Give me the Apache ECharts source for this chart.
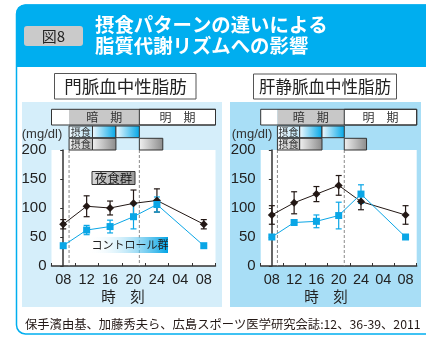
<!DOCTYPE html>
<html><head><meta charset="utf-8">
<script src="https://cdn.jsdelivr.net/npm/echarts@6/dist/echarts.min.js"></script>
<style>html,body{margin:0;padding:0;background:#fff}#c{width:426px;height:338px}</style>
</head><body><div id="c"></div>
<script>
// ---- data ----
const categories = ['08','12','16','20','24','04','08'];
const yTicks = [0, 50, 100, 150, 200];
// 門脈 (portal vein)
const portalSnack = [72, 103, 100, 108, 113, '-', 72];
const portalSnackErr = [8, 18, 12, 23, 20, '-', 8];
const portalControl = [35, 62, 68, 85, 106, '-', 35];
const portalControlErr = [0, 8, 11, 21, 13, '-', 0];
// 肝静脈 (hepatic vein)
const hepaticSnack = [88, 109, 124, 139, 111, '-', 88];
const hepaticSnackErr = [16, 19, 13, 17, 14, '-', 16];
const hepaticControl = [50, 75, 77, 87, 124, '-', 50];
const hepaticControlErr = [0, 2, 11, 23, 16, '-', 0];
// schedule, hours after 08:00
const axisHours = [-2, 26];
const darkPhase = [1, 13];
const mealLabelSpan = [1, 5];
const controlMeals = [[5, 9], [9, 13]];
const snackMeals = [[5, 9], [13, 17]];

// ---- styles ----
const JP = '"Noto Sans CJK JP", sans-serif';
const NUM = '"Liberation Sans", Arial, sans-serif';
const BLACK = '#231815', BLUE = '#0aa6e6', HEAD = '#00aeef';
const LG = (a, b) => new echarts.graphic.LinearGradient(0, 0, 1, 0, [{offset: 0, color: a}, {offset: 1, color: b}]);

function errData(mean, err) {
  return mean.map((m, i) => (m === '-' || !err[i]) ? null : [i, m - err[i], m + err[i]]).filter(Boolean);
}
function errRender(color) {
  return function (params, api) {
    const i = api.value(0);
    const a = api.coord([i, api.value(2)]), b = api.coord([i, api.value(1)]);
    const c = 3, st = {stroke: color, lineWidth: 1.2};
    return {type: 'group', children: [
      {type: 'line', shape: {x1: a[0], y1: a[1], x2: b[0], y2: b[1]}, style: st},
      {type: 'line', shape: {x1: a[0] - c, y1: a[1], x2: a[0] + c, y2: a[1]}, style: st},
      {type: 'line', shape: {x1: b[0] - c, y1: b[1], x2: b[0] + c, y2: b[1]}, style: st}
    ]};
  };
}
const ROWS = [[0.3, 16], [17, 28.7], [29.3, 41]];
function bandItems() {
  const it = [];
  it.push([axisHours[0], darkPhase[0], 0, 0]);
  it.push([darkPhase[0], darkPhase[1], 0, 1]);
  it.push([darkPhase[1], axisHours[1], 0, 2]);
  it.push([axisHours[0], axisHours[1], 0, 7]);
  it.push([mealLabelSpan[0], mealLabelSpan[1], 1, 3]);
  controlMeals.forEach(m => it.push([m[0], m[1], 1, 4]));
  it.push([mealLabelSpan[0], mealLabelSpan[1], 2, 5]);
  snackMeals.forEach(m => it.push([m[0], m[1], 2, 6]));
  return it;
}
function bandRender(params, api) {
  const x0 = api.value(0), x1 = api.value(1), row = api.value(2), kind = api.value(3);
  const r = ROWS[row];
  const p0 = api.coord([x0, r[0]]), p1 = api.coord([x1, r[1]]);
  const shape = {x: p0[0], y: p0[1], width: p1[0] - p0[0], height: p1[1] - p0[1]};
  let fill = '#fff', stroke = '#333', text = null, fs = 12;
  if (kind === 0) { stroke = null; }
  if (kind === 1) { fill = '#c8c8c8'; stroke = null; text = '暗　期'; }
  if (kind === 2) { fill = '#fff'; text = '明　期'; }
  if (kind === 7) { fill = null; }
  if (kind === 3) { fill = LG('#eef8fd', '#bfe6f7'); text = '摂食'; fs = 10; }
  if (kind === 4) { fill = LG('#f4fbff', '#00a6e6'); }
  if (kind === 5) { fill = LG('#eeeeee', '#bdbdbd'); text = '摂食'; fs = 10; }
  if (kind === 6) { fill = LG('#f2f2f2', '#8a8a8a'); }
  const el = {type: 'rect', shape, style: {fill: fill || 'none', stroke: stroke || 'none', lineWidth: 1}};
  if (text) {
    return {type: 'group', children: [el, {type: 'text', style: {
      text, x: shape.x + shape.width / 2, y: shape.y + shape.height / 2 + 0.5,
      align: 'center', verticalAlign: 'middle', fill: '#333', font: fs + 'px ' + JP}}]};
  }
  return el;
}
function dashRender(params, api) {
  const h = api.value(0);
  const a = api.coord([h, 200]), b = api.coord([h, 0]);
  return {type: 'line', shape: {x1: a[0], y1: a[1], x2: b[0], y2: b[1]},
    style: {stroke: '#8a8a8a', lineWidth: 1, lineDash: [3, 2]}};
}

const catAxis = (g) => ({
  type: 'category', gridIndex: g, data: categories, boundaryGap: true,
  axisLine: {lineStyle: {color: '#333', width: 1.5}},
  axisTick: {show: true, inside: true, length: 3, lineStyle: {color: '#333'}},
  axisLabel: {interval: 0, margin: 6, fontSize: 14.5, color: '#222', fontFamily: NUM}
});
const valAxis = (g) => ({
  type: 'value', gridIndex: g, min: 0, max: 200, interval: 50,
  axisLine: {show: true, lineStyle: {color: '#333', width: 1.5}},
  axisTick: {show: true, length: 3, lineStyle: {color: '#333'}},
  splitLine: {show: false},
  axisLabel: {margin: 5, fontSize: 15, color: '#222', fontFamily: NUM,
    customValues: yTicks}
});
const hidX = (g) => ({type: 'value', gridIndex: g, min: axisHours[0], max: axisHours[1], show: false});
const hidY = (g) => ({type: 'value', gridIndex: g, min: 0, max: 41, inverse: true, show: false});

function lineSeries(x, y, data, color, symbol, size) {
  return {type: 'line', xAxisIndex: x, yAxisIndex: y, data, connectNulls: true,
    symbol, symbolSize: size, lineStyle: {color, width: 1}, itemStyle: {color},
    z: 5, animation: false};
}
function errSeries(x, y, mean, err, color) {
  return {type: 'custom', xAxisIndex: x, yAxisIndex: y, data: errData(mean, err),
    renderItem: errRender(color), z: 4, animation: false};
}

const chart = echarts.init(document.getElementById('c'), null, {renderer: 'canvas'});
chart.setOption({
  animation: false,
  grid: [
    {left: 51.5, top: 150, width: 164, height: 116, show: true, backgroundColor: '#fff', borderWidth: 0},
    {left: 260.7, top: 150, width: 156, height: 116, show: true, backgroundColor: '#fff', borderWidth: 0},
    {left: 51.5, top: 109, width: 164, height: 41},
    {left: 260.7, top: 109, width: 156, height: 41}
  ],
  xAxis: [catAxis(0), catAxis(1), hidX(0), hidX(1), hidX(2), hidX(3)],
  yAxis: [valAxis(0), valAxis(1), hidY(2), hidY(3)],
  series: [
    {type: 'custom', xAxisIndex: 4, yAxisIndex: 2, data: bandItems(), renderItem: bandRender, clip: false, z: 3},
    {type: 'custom', xAxisIndex: 5, yAxisIndex: 3, data: bandItems(), renderItem: bandRender, clip: false, z: 3},
    {type: 'custom', xAxisIndex: 2, yAxisIndex: 0, data: darkPhase.map(h => [h, 0]), renderItem: dashRender, z: 2},
    {type: 'custom', xAxisIndex: 3, yAxisIndex: 1, data: darkPhase.map(h => [h, 0]), renderItem: dashRender, z: 2},
    errSeries(0, 0, portalSnack, portalSnackErr, BLACK),
    errSeries(0, 0, portalControl, portalControlErr, BLUE),
    lineSeries(0, 0, portalSnack, BLACK, 'diamond', 8),
    lineSeries(0, 0, portalControl, BLUE, 'rect', 7),
    errSeries(1, 1, hepaticSnack, hepaticSnackErr, BLACK),
    errSeries(1, 1, hepaticControl, hepaticControlErr, BLUE),
    lineSeries(1, 1, hepaticSnack, BLACK, 'diamond', 8),
    lineSeries(1, 1, hepaticControl, BLUE, 'rect', 7)
  ],
  graphic: [
    {type: 'rect', z: -30, shape: {x: 16.5, y: 5, width: 420, height: 329, r: [9, 0, 0, 9]},
      style: {fill: '#fff', stroke: HEAD, lineWidth: 1.5}},
    {type: 'rect', z: -29, shape: {x: 16, y: 4.5, width: 420, height: 62.5, r: [9, 0, 0, 0]}, style: {fill: HEAD}},
    {type: 'rect', z: -28, shape: {x: 24, y: 26, width: 59, height: 20, r: 3}, style: {fill: '#cacaca'}},
    {type: 'text', z: 10, style: {text: '図8', x: 53.5, y: 36.5, align: 'center', verticalAlign: 'middle',
      fill: '#222', font: '15px ' + JP}},
    {type: 'text', z: 10, style: {text: '摂食パターンの違いによる', x: 95, y: 25, verticalAlign: 'middle',
      fill: '#fff', font: 'bold 19.4px ' + JP}},
    {type: 'text', z: 10, style: {text: '脂質代謝リズムへの影響', x: 95, y: 46, verticalAlign: 'middle',
      fill: '#fff', font: 'bold 19.4px ' + JP}},
    {type: 'rect', z: -28, shape: {x: 22, y: 102, width: 200, height: 205}, style: {fill: '#d5eefa'}},
    {type: 'rect', z: -28, shape: {x: 230, y: 102, width: 191, height: 205}, style: {fill: '#a8def6'}},
    {type: 'rect', z: 10, shape: {x: 54.5, y: 73.5, width: 141.5, height: 25.5},
      style: {fill: '#fff', stroke: '#555', lineWidth: 1}},
    {type: 'text', z: 11, style: {text: '門脈血中性脂肪', x: 125.5, y: 86.5, align: 'center', verticalAlign: 'middle',
      fill: '#222', font: '17.5px ' + JP}},
    {type: 'rect', z: 10, shape: {x: 253.5, y: 74, width: 143, height: 25},
      style: {fill: '#fff', stroke: '#555', lineWidth: 1}},
    {type: 'text', z: 11, style: {text: '肝静脈血中性脂肪', x: 325, y: 86.5, align: 'center', verticalAlign: 'middle',
      fill: '#222', font: '16.5px ' + JP}},
    {type: 'text', z: 10, style: {text: '(mg/dl)', x: 42, y: 134, align: 'center', verticalAlign: 'middle',
      fill: '#333', font: '13px ' + NUM}},
    {type: 'text', z: 10, style: {text: '(mg/dl)', x: 252, y: 134, align: 'center', verticalAlign: 'middle',
      fill: '#333', font: '13px ' + NUM}},
    {type: 'text', z: 10, style: {text: '時　刻', x: 123, y: 296, align: 'center', verticalAlign: 'middle',
      fill: '#222', font: '14.5px ' + JP}},
    {type: 'text', z: 10, style: {text: '時　刻', x: 326, y: 296, align: 'center', verticalAlign: 'middle',
      fill: '#222', font: '14.5px ' + JP}},
    {type: 'rect', z: 10, shape: {x: 92, y: 171.5, width: 43, height: 13},
      style: {fill: LG('#d9d9d9', '#9a9a9a'), stroke: '#333', lineWidth: 1}},
    {type: 'text', z: 11, style: {text: '夜食群', x: 113.5, y: 178.5, align: 'center', verticalAlign: 'middle',
      fill: '#222', font: '12.5px ' + JP}},
    {type: 'rect', z: 10, shape: {x: 88, y: 237, width: 80, height: 16},
      style: {fill: LG('rgba(255,255,255,0)', '#00a3e5')}},
    {type: 'text', z: 11, style: {text: 'コントロール群', x: 130, y: 245, align: 'center', verticalAlign: 'middle',
      fill: '#222', font: '11px ' + JP}},
    {type: 'text', z: 10, style: {text: '保手濱由基、加藤秀夫ら、広島スポーツ医学研究会誌:12、36-39、2011',
      x: 25, y: 324, verticalAlign: 'middle', fill: '#231815', font: '12.3px ' + JP}}
  ]
});
</script></body></html>
